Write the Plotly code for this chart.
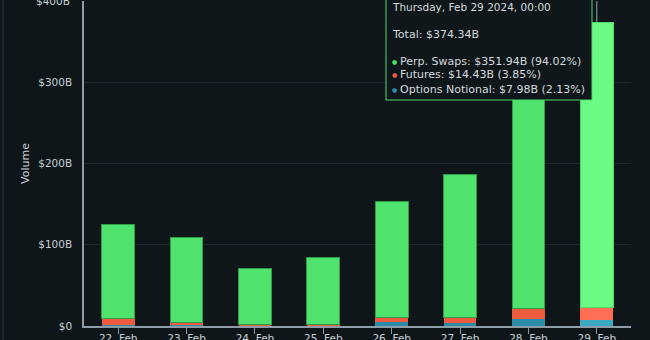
import plotly.graph_objects as go

# Daily derivatives volume (billions USD)
dates = ["22. Feb", "23. Feb", "24. Feb", "25. Feb", "26. Feb", "27. Feb", "28. Feb", "29. Feb"]
perp_swaps = [116.0, 104.7, 69.4, 82.6, 143.5, 175.0, 298.5, 351.938]
futures = [7.8, 3.0, 1.2, 1.0, 5.0, 7.0, 13.0, 14.426]
options_notional = [1.5, 1.3, 0.4, 0.4, 5.0, 4.0, 8.5, 7.976]
y_ticks = [0, 100, 200, 300, 400]
y_tick_text = ["$0", "$100B", "$200B", "$300B", "$400B"]

BG = "#0e161a"
TEXT = "#c9d1d5"
AXIS = "#8d9ca6"
GRID = "#1d272c"
Y_MAX = 400.2

hl = len(dates) - 1  # highlighted (hovered) day

def colours(base, light):
    return [light if i == hl else base for i in range(len(dates))]

fig = go.Figure()
fig.add_trace(go.Bar(
    x=dates, y=options_notional, name="Options Notional",
    marker=dict(color=colours("#2a8ca6", "#3ba9c4"), line=dict(width=0)),
))
fig.add_trace(go.Bar(
    x=dates, y=futures, name="Futures",
    marker=dict(color=colours("#ee5a3e", "#ff6d52"), line=dict(width=0)),
))
fig.add_trace(go.Bar(
    x=dates, y=perp_swaps, name="Perp. Swaps",
    marker=dict(color=colours("#4fe26d", "#6bfb85"),
                line=dict(width=1, color=colours("#2f9c4a", "#4fd96a"))),
))
# Invisible trace carrying the overlay axis that draws the long tick marks
fig.add_trace(go.Scatter(x=dates, y=[0] * len(dates), xaxis="x2", mode="markers",
                         marker=dict(opacity=0), hoverinfo="skip", showlegend=False))

# Crosshair on the hovered day
fig.add_shape(type="line", xref="x", yref="y", x0=dates[hl], x1=dates[hl],
              y0=0, y1=400, line=dict(color="#9aa4aa", width=1), layer="below")

# Container edge on the left
fig.add_shape(type="line", xref="paper", yref="paper",
              x0=-81 / 547, x1=-81 / 547, y0=-0.1, y1=1.1,
              line=dict(color="#1c262b", width=2))

# Top y label sits on the upper edge of the plot
fig.add_annotation(xref="paper", yref="paper", x=(72 - 84) / 547, y=400 / Y_MAX,
                   xanchor="right", yanchor="middle", showarrow=False, text=y_tick_text[-1],
                   font=dict(family="DejaVu Sans", size=10.5, color=TEXT))

# Tooltip for the hovered day
total = perp_swaps[hl] + futures[hl] + options_notional[hl]
fig.add_shape(type="rect", xref="paper", yref="paper",
              x0=(386 - 84) / 547, x1=(592 - 84) / 547,
              y0=(326 - 100) / 325, y1=1.1,
              fillcolor="#0f171b", line=dict(color="#4fd96a", width=1), layer="above")

def pct(v):
    return v / total * 100

def px_x(p):
    return (p - 84) / 547

def px_y(p):
    return (326 - p) / 325

header = [
    (7, "Thursday, Feb 29 2024, 00:00", 10.5),
    (34, f"Total: ${total:.2f}B", 11),
]
for ypix, txt, size in header:
    fig.add_annotation(xref="paper", yref="paper", x=px_x(390), y=px_y(ypix),
                       xanchor="left", yanchor="middle", showarrow=False, text=txt,
                       font=dict(family="DejaVu Sans", size=size, color="#d4dadd"))

rows = [
    (61, "#4fe26d", f"Perp. Swaps: ${perp_swaps[hl]:.2f}B ({pct(perp_swaps[hl]):.2f}%)"),
    (75, "#ee5a3e", f"Futures: ${futures[hl]:.2f}B ({pct(futures[hl]):.2f}%)"),
    (89, "#2a8ca6", f"Options Notional: ${options_notional[hl]:.2f}B ({pct(options_notional[hl]):.2f}%)"),
]
for ypix, col, txt in rows:
    fig.add_annotation(xref="paper", yref="paper", x=px_x(394), y=px_y(ypix),
                       xanchor="center", yanchor="middle", showarrow=False, text="●",
                       font=dict(family="DejaVu Sans", size=6, color=col))
    fig.add_annotation(xref="paper", yref="paper", x=px_x(397.5), y=px_y(ypix),
                       xanchor="left", yanchor="middle", showarrow=False, text=txt,
                       font=dict(family="DejaVu Sans", size=11, color="#d4dadd"))

fig.update_layout(
    width=650, height=340,
    margin=dict(l=84, r=19, t=1, b=14),
    paper_bgcolor=BG, plot_bgcolor=BG,
    barmode="stack", bargap=0.52,
    showlegend=False,
    font=dict(family="DejaVu Sans", size=10, color=TEXT),
    xaxis2=dict(overlaying="x", matches="x", type="category",
                range=[-0.5, len(dates) - 0.5], showticklabels=False,
                ticks="outside", ticklen=7, tickcolor=AXIS, tickwidth=1,
                showgrid=False, showline=False, zeroline=False, side="bottom",
                anchor="y"),
)
fig.layout.xaxis.update(
    type="category", range=[-0.5, len(dates) - 0.5],
    showline=True, linecolor=AXIS, linewidth=1.5,
    ticks="outside", ticklen=2, tickcolor=AXIS, tickwidth=1,
    showgrid=False, tickfont=dict(size=10.5, color=TEXT), automargin=False,
)
fig.update_yaxes(
    range=[0, Y_MAX], tickvals=y_ticks, ticktext=y_tick_text,
    showline=True, linecolor=AXIS, linewidth=1.5,
    showgrid=True, gridcolor=GRID, gridwidth=1, zeroline=False,
    ticks="", ticklabelstandoff=8,
    title=dict(text="Volume", font=dict(size=11, color=TEXT), standoff=6),
    tickfont=dict(size=10.5, color=TEXT), automargin=False,
)

fig.write_html("out.html")
